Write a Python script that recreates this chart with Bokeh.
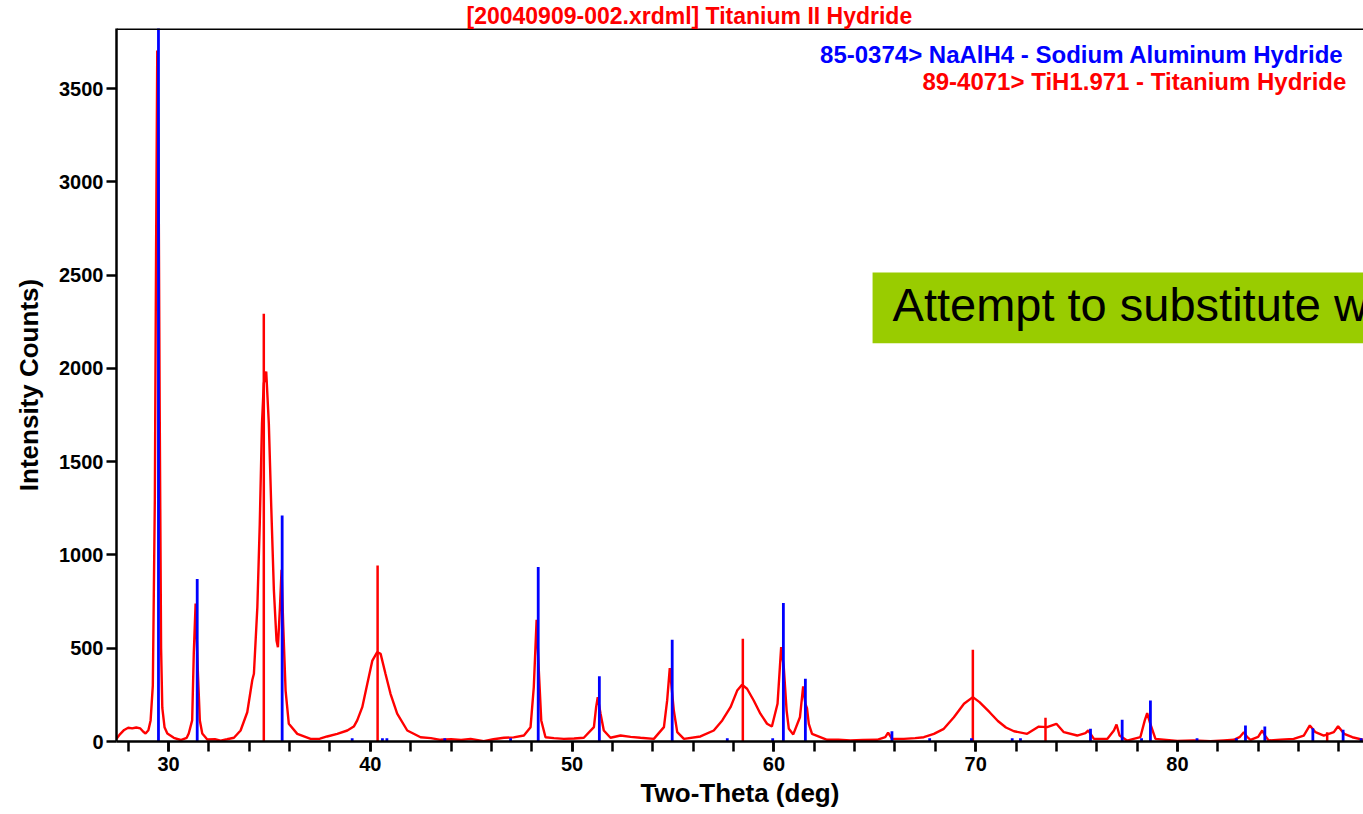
from bokeh.plotting import figure
from bokeh.models import Range1d, FixedTicker, Label, Span
from bokeh.core.properties import value
from bokeh.embed import file_html
from bokeh.resources import INLINE

# ---- measured pattern (2-theta in degrees, intensity counts) ----
two_theta = [27.42, 27.6, 27.8, 28.0, 28.2, 28.4, 28.6, 28.75, 28.86, 29.0, 29.11, 29.22, 29.32, 29.38,
             29.44, 29.5, 29.56, 29.63, 29.69, 29.8, 29.94, 30.26, 30.6, 30.9, 31.0, 31.17, 31.25, 31.34,
             31.45, 31.55, 31.67, 31.92, 32.3, 32.58, 32.9, 33.24, 33.57, 33.9, 34.15, 34.23, 34.40, 34.52,
             34.63, 34.72, 34.84, 34.97, 35.09, 35.22, 35.35, 35.42, 35.52, 35.60, 35.68, 35.80, 35.96,
             36.38, 37.04, 37.5, 37.86, 38.36, 38.86, 39.18, 39.35, 39.6, 39.85, 40.1, 40.34, 40.51, 40.75,
             41.0, 41.33, 41.83, 42.49, 43.0, 43.48, 44.0, 44.5, 44.97, 45.62, 46.1, 46.62, 47.1, 47.61,
             47.94, 48.10, 48.24, 48.35, 48.47, 48.68, 49.1, 49.59, 50.1, 50.58, 51.08, 51.19, 51.27, 51.41,
             51.57, 51.90, 52.40, 52.9, 53.39, 54.05, 54.55, 54.71, 54.84, 55.04, 55.21, 55.54, 56.36,
             57.02, 57.44, 57.85, 58.18, 58.42, 58.67, 59.0, 59.33, 59.66, 59.9, 60.18, 60.36, 60.49, 60.63,
             60.74, 60.96, 61.29, 61.45, 61.56, 61.64, 61.73, 61.89, 62.64, 63.2, 63.79, 64.4, 65.11, 65.52,
             65.66, 65.86, 66.44, 67.0, 67.43, 67.93, 68.42, 68.92, 69.42, 69.86, 70.19, 70.69, 71.1, 71.5,
             71.9, 72.55, 73.13, 73.54, 74.0, 74.37, 75.03, 75.44, 75.58, 75.86, 76.52, 76.85, 76.98, 77.13,
             77.5, 78.16, 78.38, 78.50, 78.63, 78.91, 79.99, 80.8, 81.64, 82.3, 82.8, 83.1, 83.29, 83.45,
             83.62, 84.0, 84.20, 84.35, 84.52, 85.1, 85.76, 86.26, 86.56, 86.84, 87.25, 87.75, 87.96, 88.26,
             88.67, 89.22]
counts = [14, 40, 62, 74, 70, 75, 70, 52, 43, 60, 113, 300, 1300, 2600,
          3705, 3200, 1800, 500, 180, 77, 43, 20, 8, 20, 43, 113, 472, 740,
          380, 113, 43, 11, 12, 5, 12, 20, 59, 157, 330, 363, 720, 1167,
          1703, 1920, 1984, 1703, 1256, 810, 542, 506, 720, 921, 631, 273, 95,
          41, 14, 15, 27, 41, 59, 80, 113, 184, 309, 434, 479, 470, 363,
          256, 149, 59, 23, 18, 9, 12, 8, 14, 2, 12, 20, 22, 32,
          77, 291, 652, 380, 113, 23, 18, 14, 16, 20, 77, 184, 238, 149,
          59, 20, 32, 25, 20, 14, 77, 220, 393, 166, 50, 14, 27,
          59, 113, 184, 273, 304, 283, 220, 149, 95, 80, 202, 506, 398, 166,
          68, 38, 130, 295, 202, 179, 95, 41, 9, 10, 5, 8, 9, 23,
          47, 14, 14, 18, 23, 41, 68, 130, 202, 238, 211, 157, 110, 75,
          55, 41, 80, 77, 95, 50, 32, 45, 59, 14, 14, 59, 91, 32,
          5, 23, 113, 152, 103, 14, 3, 5, 2, 6, 9, 25, 50, 25,
          9, 25, 59, 30, 5, 10, 14, 32, 86, 50, 32, 50, 82, 41,
          23, 9]

# ---- reference stick pattern 85-0374 NaAlH4 ----
naalh4_pos = [29.50, 31.42, 35.63, 39.10, 40.60, 40.82, 43.69, 46.95, 48.32, 51.35, 54.96, 57.69,
              59.94, 60.47, 61.56, 65.85, 67.72, 69.79, 71.81, 72.22, 75.69, 77.26, 78.22, 78.66,
              80.97, 82.92, 83.37, 84.33, 86.71, 88.21, 89.10]
naalh4_int = [3830, 871, 1212, 18, 18, 18, 18, 18, 935, 350, 545, 18,
              18, 742, 336, 55, 18, 18, 18, 18, 68, 116, 18, 220,
              18, 18, 86, 80, 71, 63, 18]

# ---- reference stick pattern 89-4071 TiH1.971 ----
tih_pos = [34.72, 40.36, 58.46, 69.86, 73.46, 87.42]
tih_int = [2293, 944, 551, 492, 127, 50]

x_ticks = [30, 40, 50, 60, 70, 80]
x_minor = [28, 30, 32, 34, 36, 38, 40, 42, 44, 46, 48, 50, 52, 54, 56, 58, 60, 62, 64, 66, 68,
           70, 72, 74, 76, 78, 80, 82, 84, 86, 88]
y_ticks = [0, 500, 1000, 1500, 2000, 2500, 3000, 3500]

title_text = "[20040909-002.xrdml] Titanium II Hydride"
legend_blue = "85-0374> NaAlH4 - Sodium Aluminum Hydride"
legend_red = "89-4071> TiH1.971 - Titanium Hydride"
box_text = "Attempt to substitute w"

FONT = "Liberation Sans"
RED = "#FF0000"
BLUE = "#0000FF"

X0, X1 = 27.42, 89.22
Y0, Y1 = 0, 3823

p = figure(width=1363, height=814, output_backend="svg", toolbar_location=None,
           x_range=Range1d(X0, X1), y_range=Range1d(Y0, Y1),
           min_border_left=116, min_border_right=0, min_border_top=28, min_border_bottom=73)
p.outline_line_color = None
p.grid.visible = False
p.background_fill_color = "white"
p.border_fill_color = "white"

# title (above the frame, placed near the left third like the reference)
p.title.text = title_text
p.title.text_color = RED
p.title.text_font = FONT
p.title.text_font_style = "bold"
p.title.text_font_size = "23px"
p.title.align = "left"
p.title.offset = 350
p.title.standoff = 0

# axes
p.xaxis.ticker = FixedTicker(ticks=x_ticks, minor_ticks=x_minor)
p.yaxis.ticker = FixedTicker(ticks=y_ticks, minor_ticks=[])
for ax in (p.xaxis[0], p.yaxis[0]):
    ax.axis_line_width = 2.5
    ax.axis_line_color = "black"
    ax.major_tick_line_width = 2.5
    ax.major_tick_line_color = "black"
    ax.minor_tick_line_width = 2.5
    ax.minor_tick_line_color = "black"
    ax.major_tick_in = 0
    ax.minor_tick_in = 0
    ax.major_tick_out = 10
    ax.major_label_text_font = FONT
    ax.major_label_text_font_style = "bold"
    ax.major_label_text_font_size = "20px"
    ax.major_label_text_color = "black"
    ax.axis_label_text_font = FONT
    ax.axis_label_text_font_style = "bold"
    ax.axis_label_text_color = "black"
p.xaxis.axis_label_text_font_size = "26px"
p.yaxis.axis_label_text_font_size = "26px"
p.xaxis.minor_tick_out = 10
p.yaxis.minor_tick_out = 0
p.xaxis.major_label_standoff = 5
p.yaxis.major_label_standoff = 3
p.xaxis.axis_label = "Two-Theta (deg)"
p.yaxis.axis_label = "Intensity Counts)"
p.xaxis.axis_label_standoff = 4
p.yaxis.axis_label_standoff = 12

# top frame border
p.add_layout(Span(location=Y1, dimension="width", line_color="black", line_width=3))

# measured curve
p.line(two_theta, counts, line_color=RED, line_width=2.4)

# stick patterns
p.segment(x0=tih_pos, y0=[0] * len(tih_pos), x1=tih_pos, y1=tih_int, line_color=RED, line_width=2.5)
p.segment(x0=naalh4_pos, y0=[0] * len(naalh4_pos), x1=naalh4_pos, y1=naalh4_int,
          line_color=BLUE, line_width=2.8)

# pattern legend
p.add_layout(Label(x=88.23, y=3684, text=legend_blue, text_color=BLUE, text_font=FONT,
                   text_font_style="bold", text_font_size="24px", text_baseline="middle",
                   text_align="right"))
p.add_layout(Label(x=88.37, y=3539, text=legend_red, text_color=RED, text_font=FONT,
                   text_font_style="bold", text_font_size="24px", text_baseline="middle",
                   text_align="right"))

# green call-out box (cut by the page edge, as in the slide)
p.quad(left=[64.89], right=[95], bottom=[2135], top=[2515], fill_color="#99CC00", line_color=None)
p.text(x=[65.88], y=[2343], text=[box_text], text_font=value(FONT), text_font_size="47px",
       text_color="black", text_baseline="middle", text_align="left")

open("out.html", "w").write(file_html(p, INLINE))
